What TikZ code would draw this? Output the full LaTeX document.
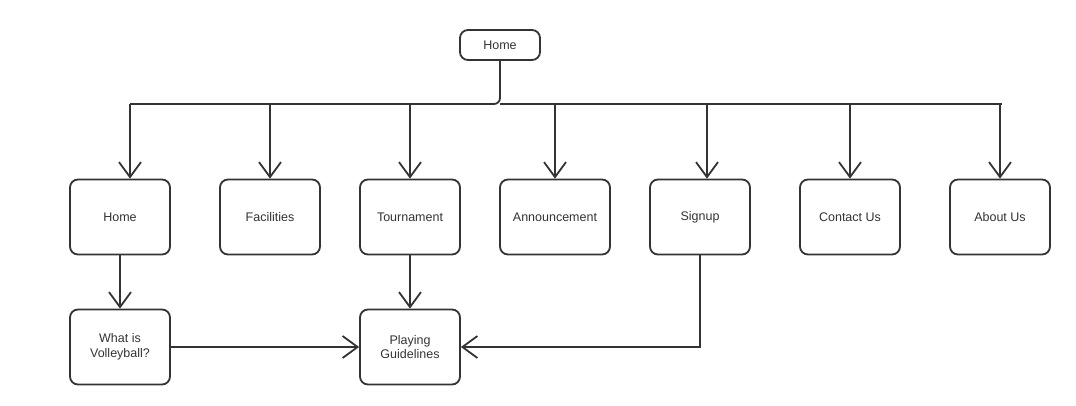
\documentclass[tikz,border=0pt]{standalone}
\usepackage{fontspec}
\setmainfont{Liberation Sans}
\usepackage{xcolor}
\usetikzlibrary{arrows.meta,positioning,calc}

\definecolor{inkgray}{HTML}{333333}

\begin{document}
\begin{tikzpicture}[
    x=1pt, y=-1pt,
    page/.style={rectangle, draw=inkgray, line width=1.8pt, rounded corners=8pt, minimum width=100pt, minimum height=75pt, align=center, text=inkgray, font=\fontsize{12.5}{14.5}\selectfont},
    link/.style={draw=inkgray, line width=1.8pt},
    arr/.style={link, -{Straight Barb[length=15pt, width=22pt, line width=1.8pt]}}
]
    \useasboundingbox (0,0) rectangle (1076,405);

    % Top page
    \node[page, minimum width=80pt, minimum height=30pt] (top) at (500,45) {Home};

    % First level
    \node[page] (home) at (120,217) {Home};
    \node[page] (fac) at (270,217) {Facilities};
    \node[page] (tour) at (410,217) {Tournament};
    \node[page, minimum width=110pt] (ann) at (555,217) {Announcement};
    \node[page] (sign) at (700,217) {Signup};
    \node[page] (contact) at (850,217) {Contact Us};
    \node[page] (about) at (1000,217) {About Us};

    % Second level
    \node[page] (what) at (120,347) {What is\\Volleyball?};
    \node[page] (guide) at (410,347) {Playing\\Guidelines};

    % Bus
    \coordinate (busl) at (130,104);
    \coordinate (busr) at (1002,104);
    \draw[link, rounded corners=6pt] (top.south) |- (busl);
    \draw[link] (top.south |- busl) -- (busr);
    \draw[arr] (busl) -- (busl |- home.north);
    \foreach \n/\x in {fac/270, tour/410, ann/555, sign/707, contact/850, about/1000}
        \draw[arr] (\x,104) -- (\x,104 |- \n.north);

    % Links between pages
    \draw[arr] (home) -- (what);
    \draw[arr] (tour) -- (guide);
    \draw[arr] (what) -- (guide);
    \draw[arr] (sign.south) |- (guide.east);
\end{tikzpicture}
\end{document}
